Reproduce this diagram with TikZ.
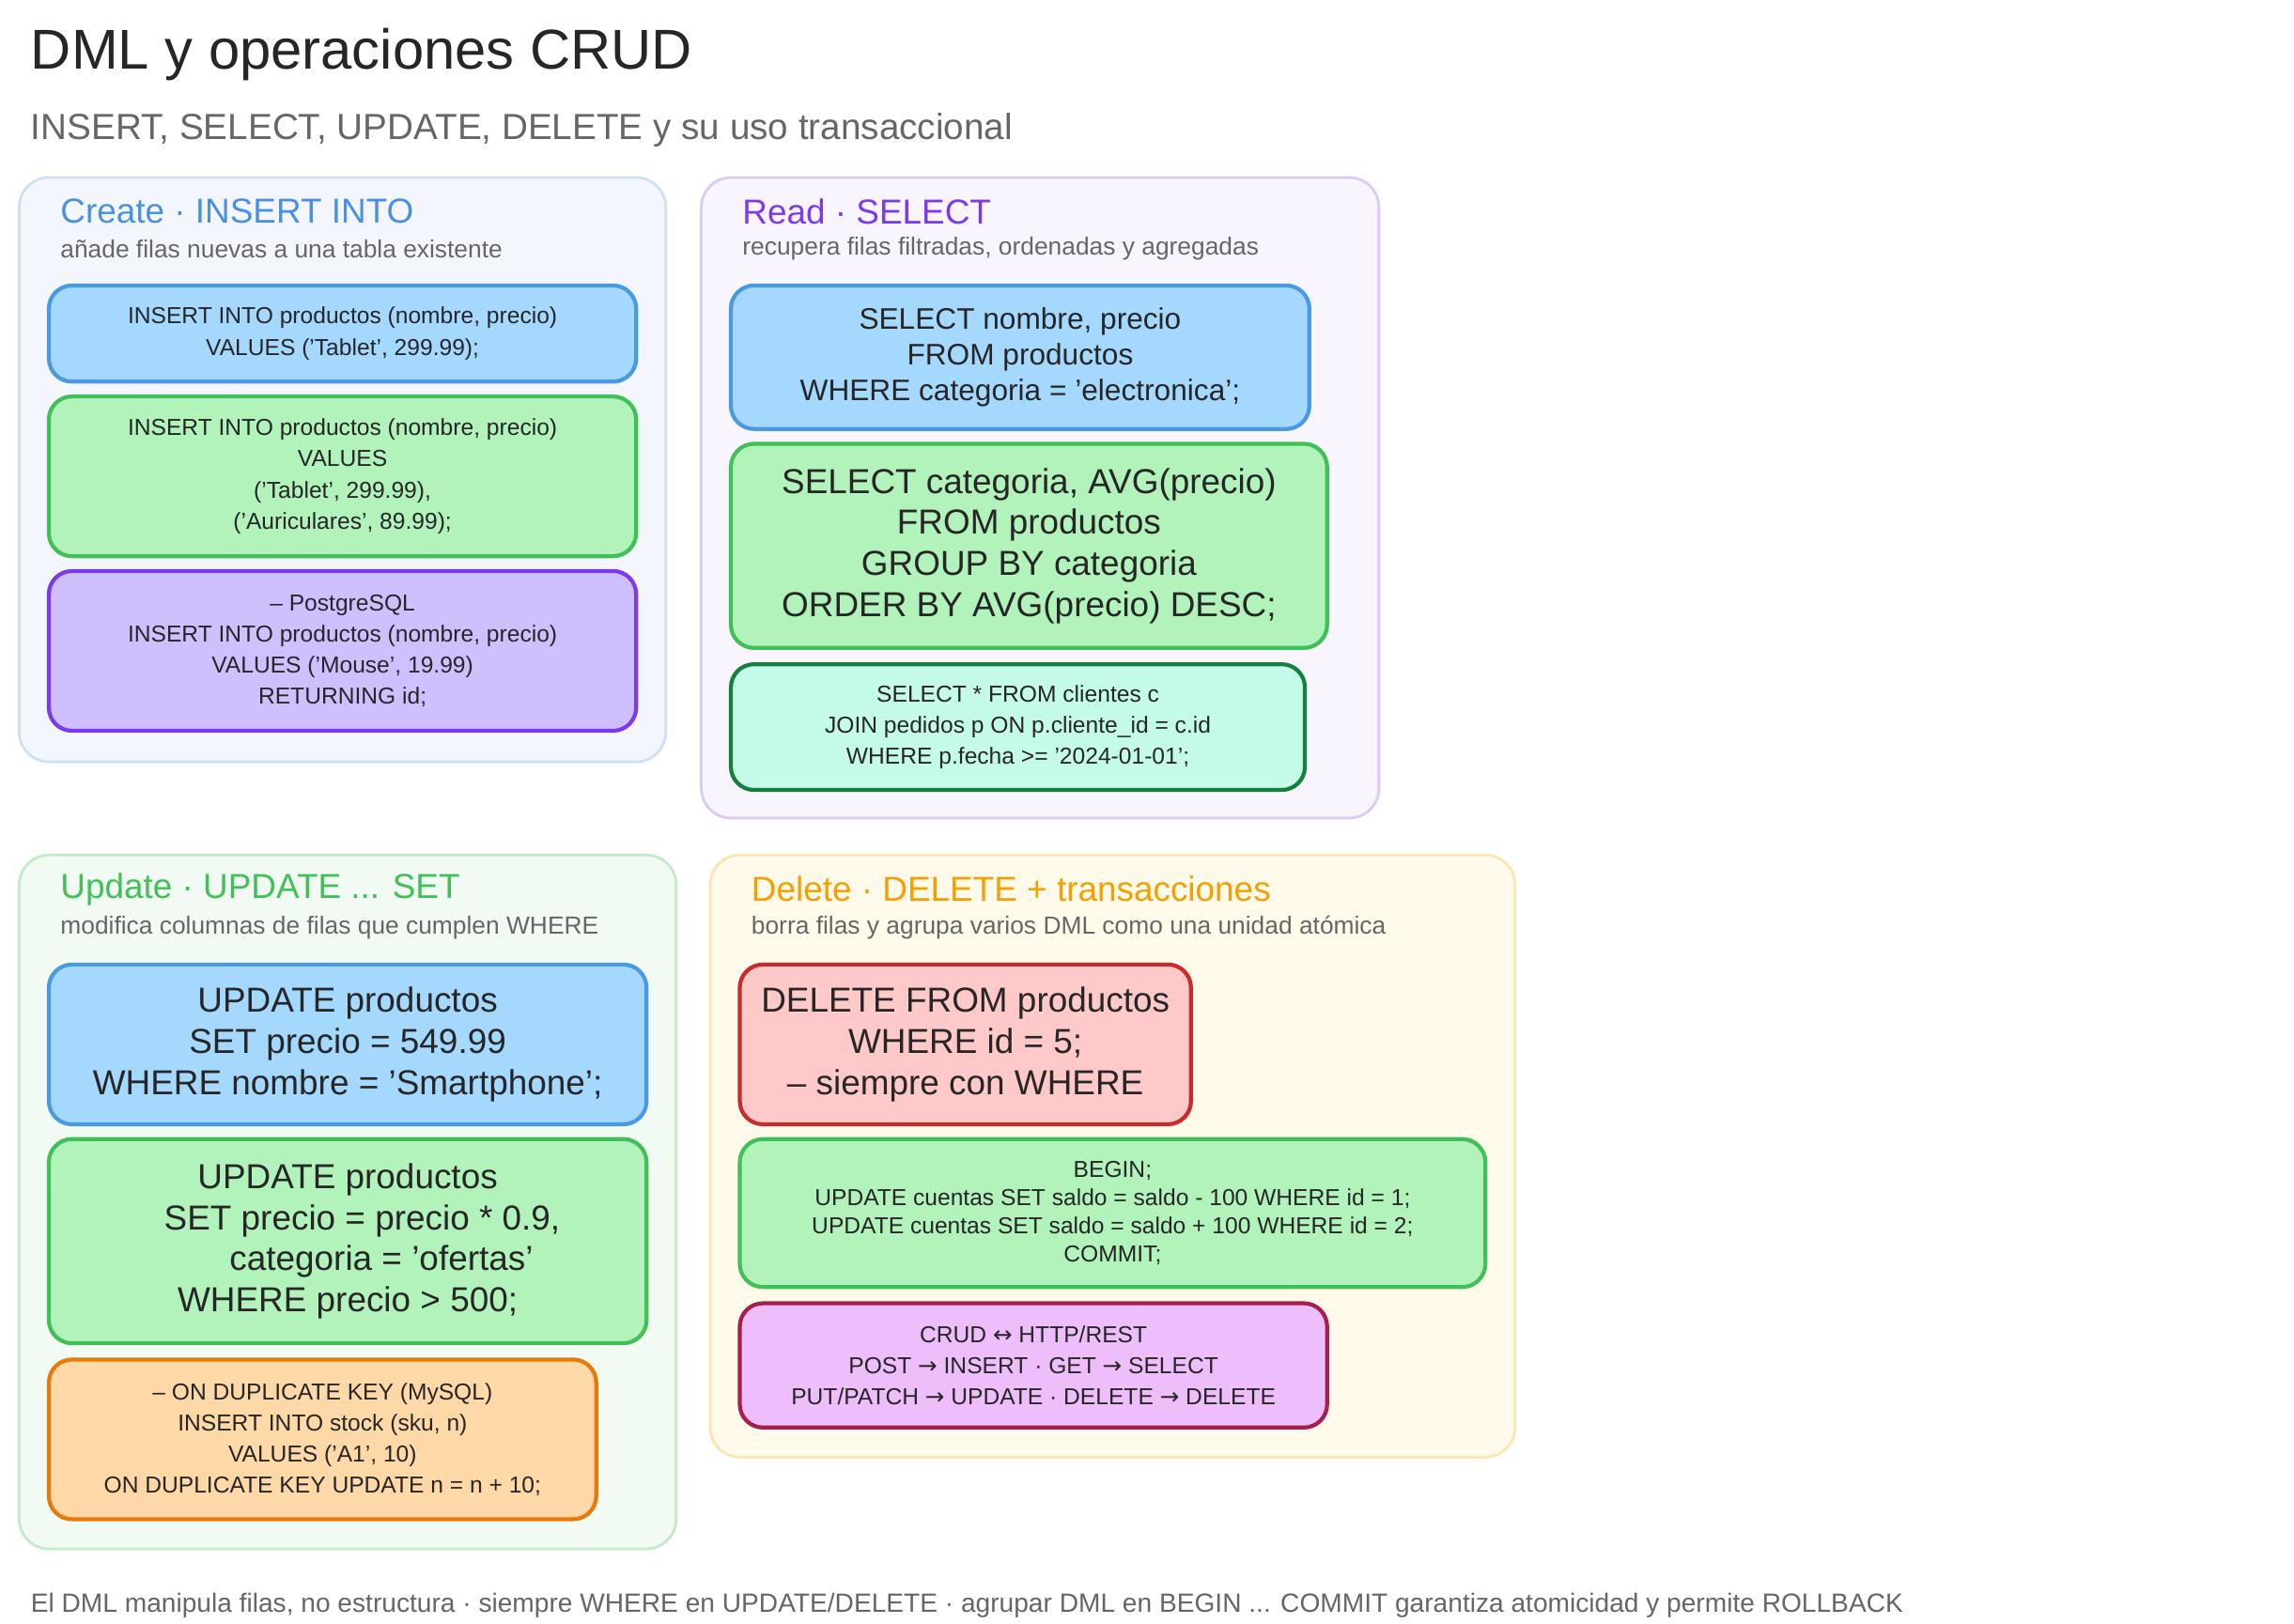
\documentclass[tikz,border=0pt]{standalone}
\usepackage{fontspec}
\setmainfont{Liberation Sans}
\newfontfamily\djfont{DejaVu Sans}
\begin{document}
\begin{tikzpicture}[x=0.01575cm,y=-0.01575cm,
 panel/.style={draw, line width=0.8pt, rounded corners=9pt},
 box/.style={draw, line width=1.2pt, rounded corners=7pt, align=center, inner sep=0pt, text=black!85},
 ptitle/.style={anchor=west, font=\fontsize{10.5}{12}\selectfont},
 psub/.style={anchor=west, font=\fontsize{7.5}{9}\selectfont, text=black!60},
 sm/.style={font=\fontsize{7}{9.4}\selectfont},
 md/.style={font=\fontsize{9}{10.7}\selectfont},
 lg/.style={font=\fontsize{10.5}{12.4}\selectfont},
 bl/.style={fill={rgb,255:red,165;green,216;blue,255}, draw={rgb,255:red,74;green,154;blue,225}},
 gr/.style={fill={rgb,255:red,178;green,242;blue,187}, draw={rgb,255:red,64;green,192;blue,87}},
 pu/.style={fill={rgb,255:red,208;green,191;blue,255}, draw={rgb,255:red,124;green,58;blue,237}},
 te/.style={fill={rgb,255:red,195;green,250;blue,232}, draw={rgb,255:red,21;green,128;blue,61}},
 orb/.style={fill={rgb,255:red,255;green,216;blue,168}, draw={rgb,255:red,232;green,121;blue,12}},
 rd/.style={fill={rgb,255:red,255;green,201;blue,201}, draw={rgb,255:red,201;green,42;blue,42}},
 mg/.style={fill={rgb,255:red,238;green,190;blue,250}, draw={rgb,255:red,166;green,30;blue,77}},
 sz/.style n args={2}{minimum width={#1*0.448pt}, minimum height={#2*0.448pt}}
]
\useasboundingbox[fill=white] (0,0) rectangle (1550.5,1097.8);
\node[anchor=west, font=\fontsize{17}{20}\selectfont, text=black!85] (title) at (13,37) {DML y operaciones CRUD};
\node[anchor=west, font=\fontsize{11}{13}\selectfont, text=black!60] (subtitle) at (13,88) {INSERT, SELECT, UPDATE, DELETE y su uso transaccional};

% Create
\draw[panel, fill={rgb,255:red,243;green,247;blue,253}, draw={rgb,255:red,207;green,224;blue,245}] (13,120) rectangle (450,515);
\node[ptitle, text={rgb,255:red,74;green,144;blue,226}] (ct) at (33,143) {Create · INSERT INTO};
\node[psub] (cs) at (33,168) {añade filas nuevas a una tabla existente};
\node[box,bl,sm,sz={397}{65}] (c1) at (231.5,225.5) {INSERT INTO productos (nombre, precio)\\VALUES ('Tablet', 299.99);};
\node[box,gr,sm,sz={397}{108}] (c2) at (231.5,322) {INSERT INTO productos (nombre, precio)\\VALUES\\('Tablet', 299.99),\\('Auriculares', 89.99);};
\node[box,pu,sm,sz={397}{108}] (c3) at (231.5,440) {-- PostgreSQL\\INSERT INTO productos (nombre, precio)\\VALUES ('Mouse', 19.99)\\RETURNING id;};

% Read
\draw[panel, fill={rgb,255:red,248;green,245;blue,255}, draw={rgb,255:red,220;green,201;blue,245}] (474,120) rectangle (932,553);
\node[ptitle, text={rgb,255:red,124;green,58;blue,237}] (rt) at (494,143) {Read · SELECT};
\node[psub] (rs) at (494,168) {recupera filas filtradas, ordenadas y agregadas};
\node[box,bl,md,sz={391}{97}] (r1) at (689.5,241.5) {SELECT nombre, precio\\FROM productos\\WHERE categoria = 'electronica';};
\node[box,gr,lg,sz={403}{138}] (r2) at (695.5,369) {SELECT categoria, AVG(precio)\\FROM productos\\GROUP BY categoria\\ORDER BY AVG(precio) DESC;};
\node[box,te,sm,sz={388}{85}] (r3) at (688,491.5) {SELECT * FROM clientes c\\JOIN pedidos p ON p.cliente\_id = c.id\\WHERE p.fecha >= '2024-01-01';};

% Update
\draw[panel, fill={rgb,255:red,242;green,251;blue,243}, draw={rgb,255:red,195;green,235;blue,201}] (13,578) rectangle (457,1047);
\node[ptitle, text={rgb,255:red,64;green,192;blue,87}] (ut) at (33,601) {Update · UPDATE ... SET};
\node[psub] (us) at (33,627) {modifica columnas de filas que cumplen WHERE};
\node[box,bl,lg,sz={404}{108}] (u1) at (235,706) {UPDATE productos\\SET precio = 549.99\\WHERE nombre = 'Smartphone';};
\node[box,gr,lg,sz={404}{138}] (u2) at (235,839) {UPDATE productos\\\ \ \ SET precio = precio * 0.9,\\\ \ \ \ \ \ \ categoria = 'ofertas'\\WHERE precio > 500;};
\node[box,orb,sm,sz={370}{108}] (u3) at (218,973) {-- ON DUPLICATE KEY (MySQL)\\INSERT INTO stock (sku, n)\\VALUES ('A1', 10)\\ON DUPLICATE KEY UPDATE n = n + 10;};

% Delete
\draw[panel, fill={rgb,255:red,255;green,250;blue,234}, draw={rgb,255:red,251;green,230;blue,176}] (480,578) rectangle (1024,985);
\node[ptitle, text={rgb,255:red,245;green,159;blue,0}] (dt) at (500,601) {Delete · DELETE + transacciones};
\node[psub] (ds) at (500,627) {borra filas y agrupa varios DML como una unidad atómica};
\node[box,rd,lg,sz={305}{108}] (d1) at (652.5,706) {DELETE FROM productos\\WHERE id = 5;\\-- siempre con WHERE};
\node[box,gr,font=\fontsize{7}{8.6}\selectfont,sz={504}{100}] (d2) at (752,820) {BEGIN;\\UPDATE cuentas SET saldo = saldo - 100 WHERE id = 1;\\UPDATE cuentas SET saldo = saldo + 100 WHERE id = 2;\\COMMIT;};
\node[box,mg,sm,sz={397}{84}] (d3) at (698.5,923) {CRUD {\djfont ↔} HTTP/REST\\POST {\djfont →} INSERT · GET {\djfont →} SELECT\\PUT/PATCH {\djfont →} UPDATE · DELETE {\djfont →} DELETE};

\node[anchor=west, font=\fontsize{8}{10}\selectfont, text=black!60] (foot) at (13,1085) {El DML manipula filas, no estructura · siempre WHERE en UPDATE/DELETE · agrupar DML en BEGIN ... COMMIT garantiza atomicidad y permite ROLLBACK};
\end{tikzpicture}
\end{document}
